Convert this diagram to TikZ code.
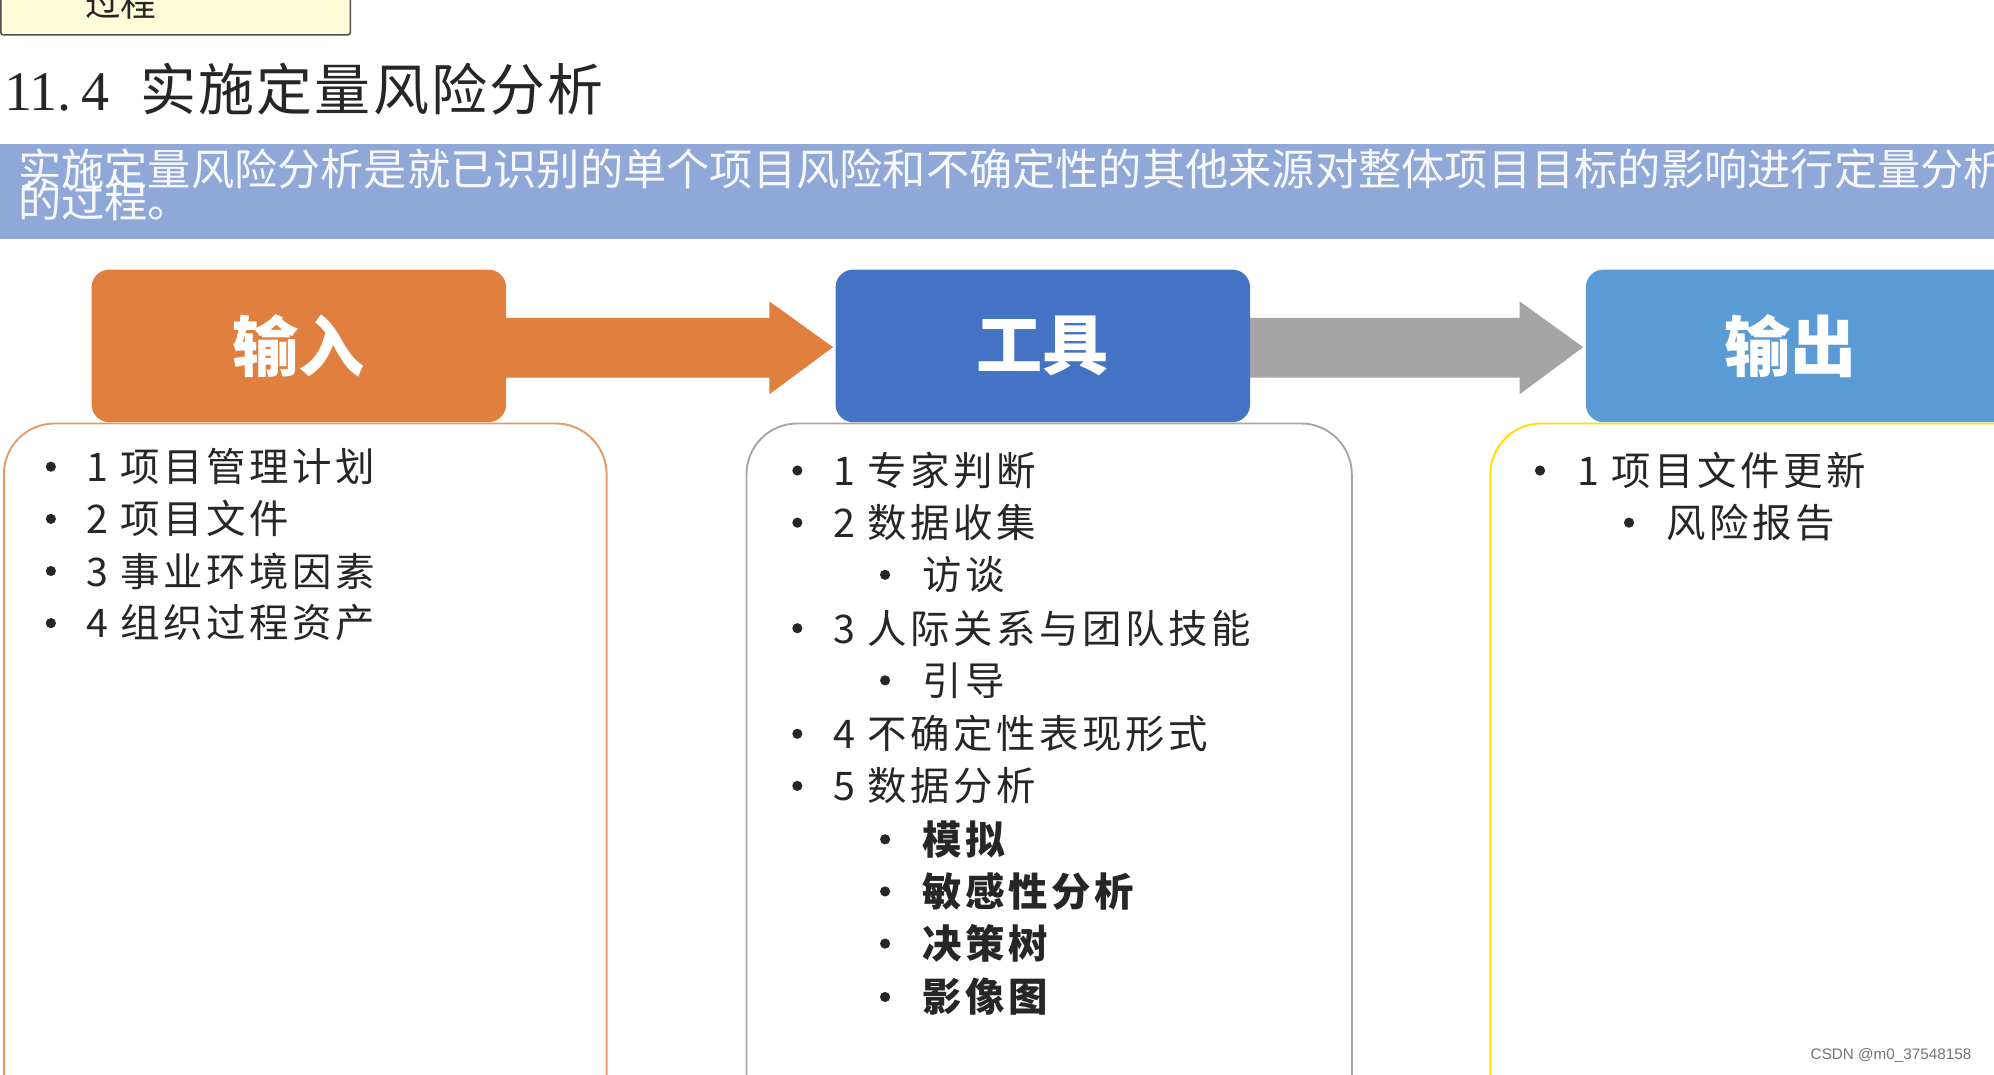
\documentclass[tikz,border=0pt]{standalone}
\usepackage{fontspec}
\setmainfont{Liberation Sans}
\newfontfamily\cjk{Noto Sans CJK SC}
\newfontfamily\cjksp[LetterSpace=9]{Noto Sans CJK SC}
\newfontfamily\serifnum{Liberation Serif}
\definecolor{orangeb}{HTML}{E07F3E}
\definecolor{blueb}{HTML}{4472C4}
\definecolor{lblueb}{HTML}{5B9BD5}
\definecolor{band}{HTML}{8FA8D8}
\definecolor{grayarr}{HTML}{A5A5A5}
\definecolor{txt}{HTML}{262626}
\begin{document}
\begin{tikzpicture}[x=1pt,y=-1pt,
  hdr/.style={rounded corners=14pt,minimum width=326pt,minimum height=120pt,text=white,font=\cjk\bfseries\fontsize{52}{56}\selectfont},
  item/.style={anchor=west,text=txt,font=\cjksp\fontsize{31}{34}\selectfont,inner sep=0pt},
  bitem/.style={item,font=\cjksp\bfseries\fontsize{31}{34}\selectfont},
  bul/.style={circle,fill=txt,inner sep=0pt,minimum size=8pt},
  panel/.style={rounded corners=40pt,line width=1.5pt}]
\useasboundingbox (0,0) rectangle (1568,845);
\begin{scope}
\clip (0,0) rectangle (1568,845);
\node[draw=black!70,fill=yellow!15,line width=1.2pt,minimum width=275pt,minimum height=60pt,anchor=south west,rounded corners=2pt] (top) at (0,28) {};
\node[text=txt,font=\cjk\fontsize{28}{30}\selectfont] (toptxt) at (95,2) {过程};
\node[anchor=west,text=txt,font=\fontsize{44}{48}\selectfont,inner sep=0pt] (title) at (3,70) {{\serifnum 11.\,4}\ \ {\cjk\addfontfeature{LetterSpace=4} 实施定量风险分析}};
\fill[band] (0,113) rectangle (1568,188);
\node[anchor=west,text=white!92!band,font=\cjk\fontsize{34}{34}\selectfont,inner sep=0pt] (b1) at (14,133) {实施定量风险分析是就已识别的单个项目风险和不确定性的其他来源对整体项目目标的影响进行定量分析};
\node[anchor=west,text=white!92!band,font=\cjk\fontsize{34}{34}\selectfont,inner sep=0pt] (b2) at (14,158) {的过程。};
\draw[panel,draw=orangeb!80] (3,900) -- (3,333) -- (477,333) -- (477,900);
\draw[panel,draw=black!35] (587,900) -- (587,333) -- (1063,333) -- (1063,900);
\draw[panel,draw=yellow!80!orange] (1172,900) -- (1172,333) -- (1650,333) -- (1650,900);
\fill[orangeb] (390,250) -- (605,250) -- (605,237) -- (655,273) -- (605,310) -- (605,297) -- (390,297) -- cycle;
\fill[grayarr] (975,250) -- (1195,250) -- (1195,237) -- (1245,273) -- (1195,310) -- (1195,297) -- (975,297) -- cycle;
\node[hdr,fill=orangeb] (in) at (235,272) {输入};
\node[hdr,fill=blueb] (tool) at (820,272) {工具};
\node[hdr,fill=lblueb,minimum width=400pt] (out) at (1447,272) {};
\node[text=white,font=\cjk\bfseries\fontsize{52}{56}\selectfont] (outt) at (1408,272) {输出};
\foreach \y/\t in {367/1 项目管理计划,408/2 项目文件,449/3 事业环境因素,490/4 组织过程资产}{
  \node[bul] at (40,\y) {}; \node[item] at (68,\y) {\t};}
\foreach \y/\t in {370/1 专家判断,411/2 数据收集,494/3 人际关系与团队技能,577/4 不确定性表现形式,618/5 数据分析}{
  \node[bul] at (627,\y) {}; \node[item] at (655,\y) {\t};}
\foreach \y/\t in {452/访谈,535/引导}{
  \node[bul] at (696,\y) {}; \node[item] at (725,\y) {\t};}
\foreach \y/\t in {660/模拟,701/敏感性分析,742/决策树,784/影像图}{
  \node[bul] at (696,\y) {}; \node[bitem] at (725,\y) {\t};}
\node[bul] at (1211,370) {}; \node[item] (r1) at (1240,370) {1 项目文件更新};
\node[bul] at (1281,411) {}; \node[item] (r2) at (1310,411) {风险报告};
\node[text=black!55,font=\fontsize{12}{14}\selectfont] (wm) at (1487,830) {CSDN @m0\_37548158};
\end{scope}
\end{tikzpicture}
\end{document}
